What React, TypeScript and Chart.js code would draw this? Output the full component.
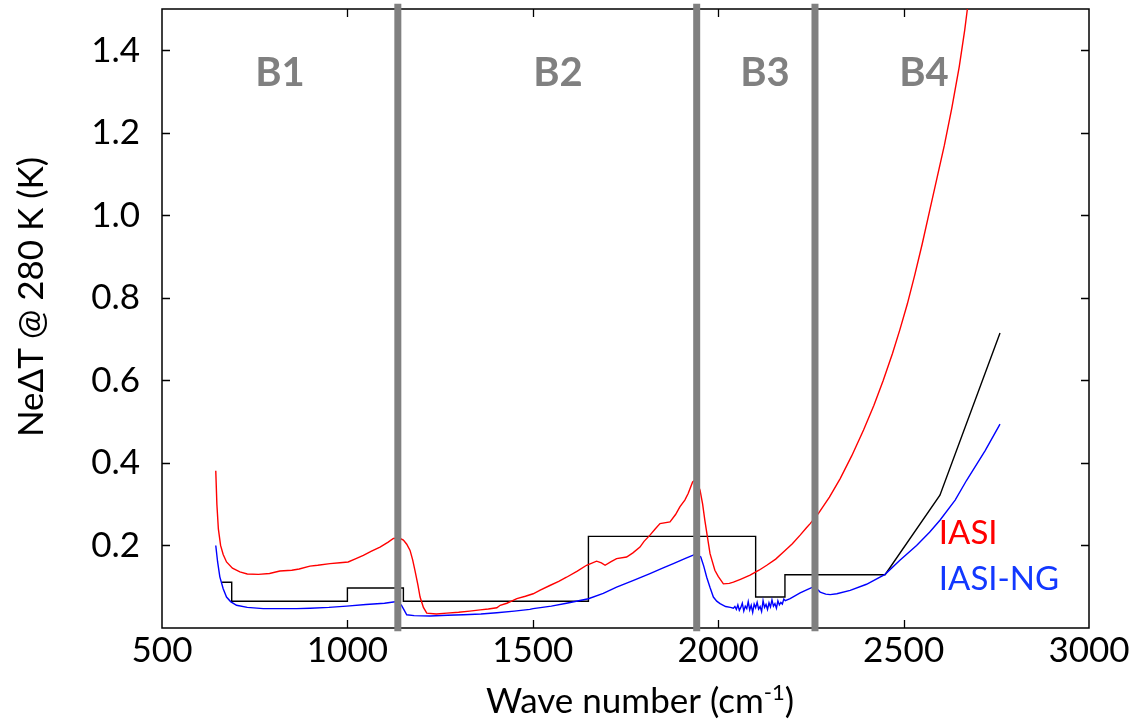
import React, { useEffect, useRef } from 'react';
import { Chart, registerables } from 'chart.js';

Chart.register(...registerables);

const FONT = 'Lato, "Open Sans", sans-serif';

const xTickValues = [500, 1000, 1500, 2000, 2500, 3000];
const yTickValues = [0.2, 0.4, 0.6, 0.8, 1.0, 1.2, 1.4];

// IASI (red)
const iasiWn = [645, 648, 652, 658, 665, 674, 690, 710, 730, 760, 790, 818, 850, 870, 899, 920, 953, 980, 1002, 1020, 1043, 1065, 1088, 1110, 1124, 1140, 1151, 1160, 1169, 1176, 1182, 1190, 1196, 1205, 1214, 1240, 1268, 1300, 1330, 1358, 1380, 1403, 1412, 1430, 1447, 1457, 1480, 1501, 1520, 1546, 1570, 1591, 1620, 1645, 1672, 1685, 1695, 1710, 1726, 1753, 1770, 1789, 1800, 1816, 1830, 1843, 1870, 1885, 1897, 1910, 1919, 1931, 1940, 1951, 1958, 1964, 1971, 1978, 1991, 2000, 2014, 2030, 2041, 2060, 2086, 2110, 2131, 2155, 2176, 2200, 2221, 2238, 2248, 2270, 2275, 2300, 2329, 2360, 2392, 2420, 2445, 2470, 2490, 2510, 2530, 2550, 2570, 2590, 2610, 2630, 2650, 2665, 2672, 2690];
const iasiNedt = [0.381, 0.3, 0.24, 0.2, 0.178, 0.16, 0.145, 0.136, 0.131, 0.13, 0.132, 0.138, 0.14, 0.143, 0.15, 0.152, 0.156, 0.158, 0.16, 0.167, 0.176, 0.186, 0.196, 0.208, 0.217, 0.218, 0.213, 0.203, 0.188, 0.165, 0.14, 0.105, 0.075, 0.05, 0.036, 0.034, 0.036, 0.038, 0.041, 0.044, 0.046, 0.049, 0.055, 0.06, 0.067, 0.071, 0.077, 0.083, 0.092, 0.103, 0.113, 0.123, 0.138, 0.152, 0.162, 0.158, 0.152, 0.16, 0.168, 0.172, 0.182, 0.196, 0.21, 0.225, 0.24, 0.253, 0.257, 0.275, 0.294, 0.31, 0.326, 0.354, 0.36, 0.334, 0.3, 0.261, 0.22, 0.18, 0.14, 0.125, 0.107, 0.108, 0.111, 0.118, 0.128, 0.14, 0.152, 0.167, 0.184, 0.204, 0.225, 0.243, 0.253, 0.277, 0.284, 0.317, 0.362, 0.417, 0.48, 0.54, 0.6, 0.665, 0.723, 0.785, 0.855, 0.93, 1.01, 1.09, 1.17, 1.26, 1.36, 1.45, 1.5, 1.63];

// IASI-NG (blue)
const ngWn = [645, 650, 656, 665, 674, 685, 701, 730, 773, 820, 863, 900, 950, 998, 1050, 1100, 1124, 1136, 1146, 1152, 1160, 1180, 1223, 1270, 1313, 1360, 1403, 1450, 1492, 1501, 1550, 1591, 1650, 1690, 1726, 1770, 1816, 1850, 1879, 1910, 1931, 1940, 1953, 1961, 1969, 1978, 1987, 1996, 2005, 2020, 2033, 2041, 2045, 2049, 2053, 2057, 2061, 2065, 2069, 2073, 2077, 2081, 2085, 2089, 2093, 2097, 2101, 2105, 2109, 2113, 2117, 2121, 2125, 2129, 2133, 2137, 2141, 2145, 2149, 2153, 2157, 2161, 2165, 2169, 2173, 2177, 2181, 2194, 2221, 2240, 2252, 2260, 2268, 2275, 2290, 2302, 2320, 2356, 2400, 2450, 2490, 2535, 2570, 2598, 2639, 2670, 2720, 2760];
const ngNedt = [0.2, 0.16, 0.124, 0.095, 0.075, 0.064, 0.055, 0.05, 0.047, 0.047, 0.047, 0.048, 0.05, 0.053, 0.057, 0.06, 0.063, 0.064, 0.055, 0.045, 0.032, 0.03, 0.029, 0.031, 0.032, 0.034, 0.037, 0.041, 0.045, 0.047, 0.053, 0.06, 0.071, 0.084, 0.099, 0.115, 0.132, 0.145, 0.156, 0.168, 0.176, 0.18, 0.172, 0.15, 0.123, 0.098, 0.075, 0.065, 0.059, 0.052, 0.05, 0.048, 0.052, 0.045, 0.056, 0.043, 0.05, 0.06, 0.041, 0.053, 0.047, 0.064, 0.044, 0.055, 0.038, 0.058, 0.049, 0.062, 0.046, 0.052, 0.04, 0.066, 0.05, 0.057, 0.045, 0.061, 0.051, 0.068, 0.053, 0.059, 0.048, 0.066, 0.056, 0.062, 0.058, 0.07, 0.066, 0.071, 0.085, 0.093, 0.098, 0.1, 0.093, 0.087, 0.082, 0.081, 0.083, 0.091, 0.106, 0.13, 0.164, 0.2, 0.232, 0.261, 0.31, 0.358, 0.43, 0.494];

// Requirement (black step)
const reqWn = [662, 688, 688, 1000, 1000, 1151, 1151, 1650, 1650, 2101, 2101, 2180, 2180, 2450, 2598, 2760];
const reqNedt = [0.111, 0.111, 0.065, 0.065, 0.097, 0.097, 0.065, 0.065, 0.222, 0.222, 0.075, 0.075, 0.129, 0.129, 0.322, 0.715];

// Band edges and labels
const bandEdges = [1136, 1942, 2261];
const bandLabels = ['B1', 'B2', 'B3', 'B4'];
const bandLabelWn = [818, 1568, 2126, 2555];
const bandLabelLevel = 1.345;

const seriesNames = ['IASI', 'IASI-NG'];
const seriesColors = ['#ff0000', '#1238ff'];
const seriesLabelWn = 2595;
const seriesLabelLevel = [0.23, 0.118];

const zip = (xs: number[], ys: number[]) => xs.map((x, i) => ({ x, y: ys[i] }));

const decorPlugin = {
  id: 'decor',
  beforeDatasetsDraw(chart: any) {
    const { ctx, chartArea: a, scales } = chart;
    const x = scales.x;
    const y = scales.y;
    ctx.save();
    ctx.strokeStyle = '#000';
    ctx.lineWidth = 1.5;
    ctx.strokeRect(a.left, a.top, a.right - a.left, a.bottom - a.top);
    ctx.lineWidth = 1.3;
    ctx.beginPath();
    yTickValues.forEach((v) => {
      const py = Math.round(y.getPixelForValue(v)) + 0.5;
      ctx.moveTo(a.left, py);
      ctx.lineTo(a.left + 8, py);
      ctx.moveTo(a.right, py);
      ctx.lineTo(a.right - 8, py);
    });
    xTickValues.slice(1, -1).forEach((v) => {
      const px = Math.round(x.getPixelForValue(v)) + 0.5;
      ctx.moveTo(px, a.bottom);
      ctx.lineTo(px, a.bottom - 8);
      ctx.moveTo(px, a.top);
      ctx.lineTo(px, a.top + 8);
    });
    ctx.stroke();
    ctx.restore();
  },
  afterDraw(chart: any) {
    const { ctx, scales } = chart;
    const x = scales.x;
    const y = scales.y;
    ctx.save();
    // band labels
    ctx.fillStyle = '#808080';
    ctx.font = `bold 40px ${FONT}`;
    ctx.textAlign = 'center';
    ctx.textBaseline = 'middle';
    bandLabels.forEach((t, i) => {
      ctx.fillText(t, x.getPixelForValue(bandLabelWn[i]), y.getPixelForValue(bandLabelLevel));
    });
    // series labels
    ctx.font = `33px ${FONT}`;
    ctx.textAlign = 'left';
    seriesNames.forEach((t, i) => {
      ctx.fillStyle = seriesColors[i];
      ctx.fillText(t, x.getPixelForValue(seriesLabelWn), y.getPixelForValue(seriesLabelLevel[i]));
    });
    // x axis title
    ctx.fillStyle = '#000';
    ctx.textBaseline = 'alphabetic';
    const main = 'Wave number (cm';
    const sup = '-1';
    const close = ')';
    ctx.font = `35px ${FONT}`;
    const wMain = ctx.measureText(main).width;
    const wClose = ctx.measureText(close).width;
    ctx.font = `22px ${FONT}`;
    const wSup = ctx.measureText(sup).width;
    const total = wMain + wSup + wClose;
    const cx = 640;
    let sx = cx - total / 2;
    const base = 713;
    ctx.textAlign = 'left';
    ctx.font = `35px ${FONT}`;
    ctx.fillText(main, sx, base);
    sx += wMain;
    ctx.font = `22px ${FONT}`;
    ctx.fillText(sup, sx, base - 13);
    sx += wSup;
    ctx.font = `35px ${FONT}`;
    ctx.fillText(close, sx, base);
    // y axis title
    ctx.translate(43, 297);
    ctx.rotate(-Math.PI / 2);
    ctx.textAlign = 'center';
    ctx.fillText('NeΔT @ 280 K (K)', 0, 0);
    ctx.restore();
  },
};

export default function App() {
  const ref = useRef<HTMLCanvasElement>(null);
  useEffect(() => {
    if (!ref.current) return;
    const line = (data: any[], color: string, order: number) => ({
      data,
      borderColor: color,
      backgroundColor: color,
      borderWidth: 1.4,
      pointRadius: 0,
      tension: 0,
      fill: false,
      order,
    });
    const datasets: any[] = [
      line(zip(reqWn, reqNedt), '#000000', 3),
      line(zip(ngWn, ngNedt), '#0000ff', 2),
      line(zip(iasiWn, iasiNedt), '#ff0000', 1),
      ...bandEdges.map((e) => ({
        data: [
          { x: e, y: -0.008 },
          { x: e, y: 1.513 },
        ],
        borderColor: '#808080',
        borderWidth: 7,
        pointRadius: 0,
        borderCapStyle: 'butt',
        clip: false,
        order: 0,
      })),
    ];
    const chart = new Chart(ref.current, {
      type: 'line',
      data: { datasets },
      options: {
        animation: false,
        responsive: false,
        devicePixelRatio: 1,
        layout: { padding: { top: 9, right: 44, left: 0, bottom: 0 } },
        plugins: { legend: { display: false }, tooltip: { enabled: false } },
        scales: {
          x: {
            type: 'linear',
            min: 500,
            max: 3000,
            afterBuildTicks: (s: any) => {
              s.ticks = xTickValues.map((v) => ({ value: v }));
            },
            afterFit: (s: any) => {
              s.height = 92;
              s.paddingLeft = 0;
              s.paddingRight = 0;
            },
            grid: { display: false, drawTicks: false },
            border: { display: false },
            ticks: {
              font: { family: FONT, size: 35 },
              color: '#000',
              padding: 2,
              maxRotation: 0,
              autoSkip: false,
              callback: (v: any) => String(v),
            },
          },
          y: {
            type: 'linear',
            min: 0,
            max: 1.5,
            afterBuildTicks: (s: any) => {
              s.ticks = yTickValues.map((v) => ({ value: v }));
            },
            afterFit: (s: any) => {
              s.width = 162;
              s.paddingTop = 0;
              s.paddingBottom = 0;
            },
            grid: { display: false, drawTicks: false },
            border: { display: false },
            ticks: {
              font: { family: FONT, size: 35 },
              color: '#000',
              padding: 22,
              autoSkip: false,
              callback: (v: any) => Number(v).toFixed(1),
            },
          },
        },
      },
      plugins: [decorPlugin],
    } as any);
    return () => chart.destroy();
  }, []);
  return (
    <div style={{ position: 'fixed', left: 0, top: 0, width: 1133, height: 720, background: '#fff' }}>
      <canvas ref={ref} width={1133} height={720} style={{ width: 1133, height: 720, display: 'block' }} />
    </div>
  );
}
